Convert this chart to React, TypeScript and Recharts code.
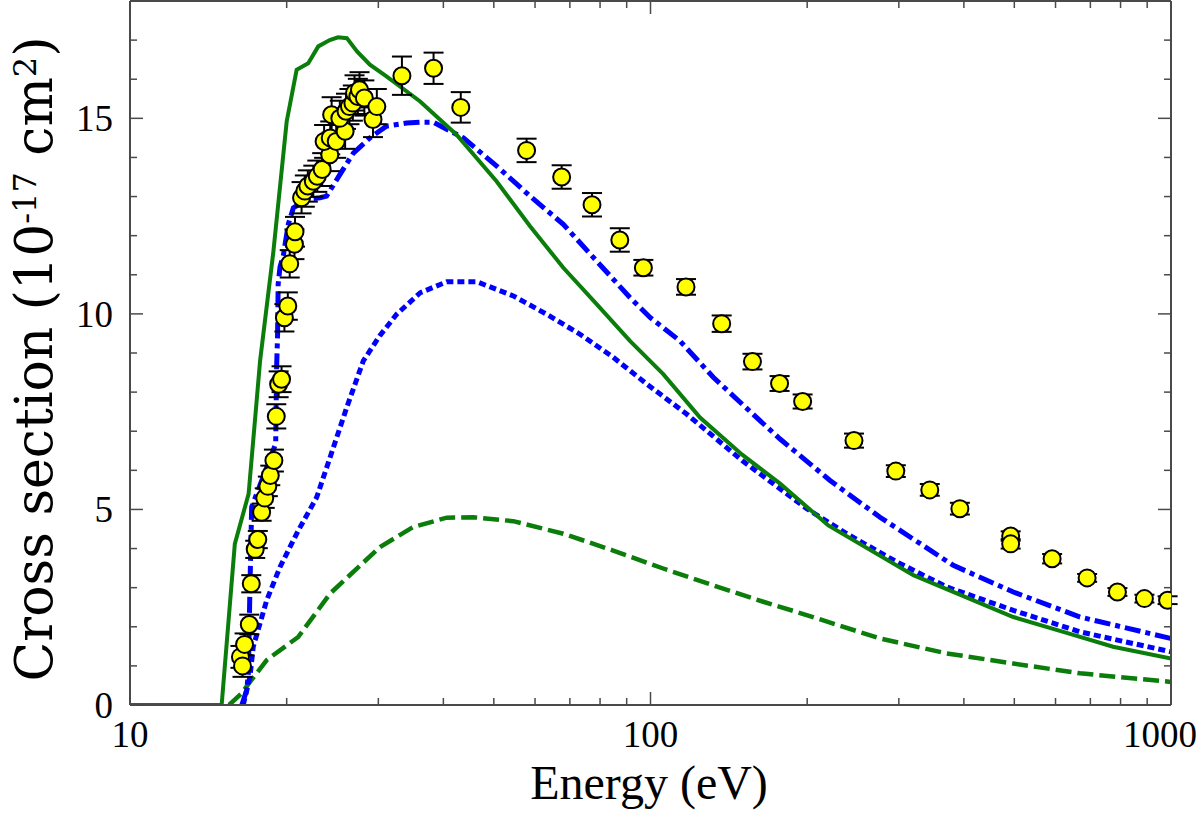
import React from "react";
import { ComposedChart, Line, Scatter, ErrorBar, XAxis, YAxis } from "recharts";

const xMajor = [10, 100, 1000];
const xMinor = [20, 30, 40, 50, 60, 70, 80, 90, 200, 300, 400, 500, 600, 700, 800, 900];
const yMajor = [0, 5, 10, 15];
const yMinor = [1, 2, 3, 4, 6, 7, 8, 9, 11, 12, 13, 14, 16, 17];

// measured cross sections: energy (eV), value, error
const measE = [
  16.3, 16.45, 16.6, 16.95, 17.1, 17.4, 17.6, 17.9, 18.15, 18.4, 18.6, 18.9, 19.1, 19.3,
  19.55, 19.8, 20.1, 20.27, 20.7, 20.75, 21.36, 21.67, 21.96, 22.5, 22.9, 23.4, 24.2,
  23.6, 24.25, 24.9, 25.9, 24.4, 25.3, 26.0, 26.4, 26.8, 27.0, 27.4, 27.6, 28.2, 29.3,
  29.8, 33.3, 38.3, 43.2, 57.8, 67.5, 77.2, 87.3, 96.9, 117, 137, 157, 177, 196, 246,
  296, 344, 393, 492, 492, 591, 690, 789, 889, 985,
];
const measV = [
  1.23, 1.0, 1.55, 2.06, 3.1, 3.98, 4.23, 4.93, 5.29, 5.59, 5.87, 6.25, 7.38, 8.2, 8.33,
  9.9, 10.2, 11.28, 11.78, 12.1, 12.97, 13.14, 13.27, 13.39, 13.52, 13.69, 14.07, 14.41,
  14.5, 14.41, 14.67, 15.09, 15.0, 15.18, 15.3, 15.39, 15.65, 15.56, 15.73, 15.52, 14.97,
  15.3, 16.09, 16.28, 15.28, 14.18, 13.5, 12.79, 11.89, 11.18, 10.69, 9.75, 8.78, 8.22,
  7.76, 6.76, 5.98, 5.5, 5.02, 4.32, 4.12, 3.74, 3.25, 2.89, 2.72, 2.68,
];
const measErr = [
  0.28, 0.28, 0.28, 0.25, 0.22, 0.22, 0.22, 0.22, 0.25, 0.25, 0.25, 0.28, 0.31, 0.33,
  0.33, 0.35, 0.35, 0.35, 0.38, 0.38, 0.4, 0.4, 0.4, 0.4, 0.4, 0.42, 0.42, 0.42, 0.42,
  0.42, 0.45, 0.45, 0.45, 0.45, 0.45, 0.45, 0.45, 0.45, 0.45, 0.45, 0.45, 0.45, 0.49,
  0.4, 0.39, 0.3, 0.3, 0.3, 0.3, 0.2, 0.2, 0.21, 0.2, 0.19, 0.18, 0.18, 0.15, 0.15, 0.15,
  0.12, 0.12, 0.12, 0.1, 0.1, 0.1, 0.1,
];

// theory curves: [energy, value]
const solidGreen = [
  [10, 0], [15.0, 0], [15.9, 4.12], [16.9, 5.4], [17.78, 8.8], [18.86, 11.6], [20.0, 14.92],
  [20.9, 16.24], [22.0, 16.41], [23.0, 16.84], [24.2, 17.0], [25.1, 17.07], [26.1, 17.05],
  [27.3, 16.71], [28.9, 16.37], [31.1, 16.07], [36.1, 15.43], [42.4, 14.58], [50.6, 13.39],
  [58.7, 12.24], [68.0, 11.18], [78.8, 10.25], [91.3, 9.31], [105.8, 8.46], [124.5, 7.35],
  [150, 6.4], [177.4, 5.66], [219.6, 4.59], [319.9, 3.32], [497.8, 2.25], [621, 1.87],
  [774, 1.49], [1000, 1.19],
];
const dashDotBlue = [
  [16.4, 0], [16.76, 0.38], [16.88, 0.8], [17.0, 3.0], [17.13, 5.06], [19.05, 6.68],
  [19.13, 8.63], [19.21, 9.48], [19.26, 10.76], [19.42, 11.2], [19.71, 11.5], [20.15, 12.3],
  [20.6, 12.71], [21.84, 12.93], [23.17, 12.97], [23.86, 13.01], [25.3, 13.56], [26.86, 14.11],
  [28.9, 14.5], [31.1, 14.8], [34.0, 14.88], [36.1, 14.9], [38.25, 14.9], [43.7, 14.5],
  [50.65, 13.78], [58.7, 13.01], [68.0, 12.29], [78.8, 11.35], [91.3, 10.42], [99.8, 9.91],
  [113.9, 9.31], [132, 8.38], [162.3, 7.27], [177.4, 6.8], [221.3, 5.74], [276, 4.8],
  [381.7, 3.57], [497.8, 2.89], [668.8, 2.25], [1000, 1.7],
];
const dottedBlue = [
  [16.5, 0], [17.0, 0.72], [17.25, 1.49], [18.31, 2.68], [19.42, 3.53], [21.05, 4.46],
  [22.84, 5.31], [24.23, 6.33], [26.09, 7.61], [28.07, 8.8], [30.22, 9.45], [32.53, 9.99],
  [36.1, 10.54], [40.6, 10.82], [46.4, 10.82], [54.5, 10.46], [63.2, 9.99], [73.2, 9.48],
  [84.8, 8.89], [98.3, 8.21], [117.3, 7.44], [150, 6.25], [199.6, 5.02], [238.2, 4.38],
  [297.2, 3.66], [370.7, 3.02], [497.8, 2.42], [668.8, 1.87], [1000, 1.36],
];
const dashGreen = [
  [15.5, 0], [16.39, 0.3], [17.0, 0.59], [18.31, 1.15], [21.05, 1.74], [24.23, 2.85],
  [30.22, 4.04], [35.0, 4.55], [40.6, 4.79], [45.7, 4.8], [54.5, 4.7], [68.0, 4.38],
  [84.8, 3.95], [105.8, 3.49], [132, 3.06], [164.7, 2.64], [190.9, 2.38], [276, 1.7],
  [370.7, 1.32], [497.8, 1.06], [668.8, 0.81], [1000, 0.59],
];

const toRows = (pts: number[][]) => pts.map(([e, v]) => ({ e, v }));
const measured = measE.map((e, i) => ({ e, v: measV[i], err: measErr[i] }));

const FONT = "'Liberation Serif', 'Times New Roman', serif";
const TITLE_FONT = "'DejaVu Serif', serif";
const AXIS = "#4a4a4a";
const GREEN = "#0a7d0a";
const BLUE = "#0000ff";

const bottomTick = (props: any) => {
  const { x, y, payload } = props;
  const major = xMajor.includes(payload.value);
  const last = payload.value === 1000;
  return (
    <g>
      <line x1={x} x2={x} y1={y} y2={y - (major ? 13 : 7)} stroke={AXIS} strokeWidth={1.5} />
      {major && (
        <text x={last ? x + 26 : x} y={y + 42} textAnchor={last ? "end" : "middle"}
          fontSize={37} fontFamily={FONT} fill="#000">
          {payload.value}
        </text>
      )}
    </g>
  );
};

const topTick = (props: any) => {
  const { x, y, payload } = props;
  const major = xMajor.includes(payload.value);
  return <line x1={x} x2={x} y1={y} y2={y + (major ? 13 : 7)} stroke={AXIS} strokeWidth={1.5} />;
};

const leftTick = (props: any) => {
  const { x, y, payload } = props;
  const major = yMajor.includes(payload.value);
  return (
    <g>
      <line x1={x} x2={x + (major ? 13 : 7)} y1={y} y2={y} stroke={AXIS} strokeWidth={1.5} />
      {major && (
        <text x={x - 17} y={y + 13} textAnchor="end" fontSize={37} fontFamily={FONT} fill="#000">
          {payload.value}
        </text>
      )}
    </g>
  );
};

const rightTick = (props: any) => {
  const { x, y, payload } = props;
  const major = yMajor.includes(payload.value);
  return <line x1={x} x2={x - (major ? 13 : 7)} y1={y} y2={y} stroke={AXIS} strokeWidth={1.5} />;
};

const Dot = (props: any) => (
  <circle cx={props.cx} cy={props.cy} r={8.5} fill="#ffff00" stroke="#000" strokeWidth={2} />
);

const xTicks = [...xMajor, ...xMinor].sort((a, b) => a - b);
const yTicks = [...yMajor, ...yMinor].sort((a, b) => a - b);

export default function App() {
  return (
    <div style={{ position: "absolute", left: 0, top: 0, width: 1200, height: 813, background: "#fff" }}>
      <ComposedChart width={1200} height={813} margin={{ top: 0, right: 28, bottom: 78, left: 70 }}>
        <XAxis dataKey="e" type="number" scale="log" domain={[10, 1000]} allowDataOverflow
          ticks={xTicks} interval={0} tick={bottomTick} tickLine={false} tickSize={0} tickMargin={0}
          axisLine={{ stroke: AXIS, strokeWidth: 2 }} height={30} />
        <XAxis xAxisId="top" orientation="top" dataKey="e" type="number" scale="log" domain={[10, 1000]}
          allowDataOverflow ticks={xTicks} interval={0} tick={topTick} tickLine={false} tickSize={0}
          tickMargin={0} axisLine={{ stroke: AXIS, strokeWidth: 2 }} height={1} />
        <YAxis dataKey="v" type="number" domain={[0, 18]} allowDataOverflow ticks={yTicks} interval={0}
          tick={leftTick} tickLine={false} tickSize={0} tickMargin={0}
          axisLine={{ stroke: AXIS, strokeWidth: 2 }} width={60} />
        <YAxis yAxisId="right" orientation="right" dataKey="v" type="number" domain={[0, 18]}
          allowDataOverflow ticks={yTicks} interval={0} tick={rightTick} tickLine={false} tickSize={0}
          tickMargin={0} axisLine={{ stroke: AXIS, strokeWidth: 2 }} width={1} />

        <Line data={toRows(dashGreen)} dataKey="v" type="linear" stroke={GREEN} strokeWidth={4.5}
          strokeDasharray="16 6" dot={false} isAnimationActive={false} />
        <Line data={toRows(dottedBlue)} dataKey="v" type="linear" stroke={BLUE} strokeWidth={5}
          strokeDasharray="7 4" dot={false} isAnimationActive={false} />
        <Line data={toRows(dashDotBlue)} dataKey="v" type="linear" stroke={BLUE} strokeWidth={5}
          strokeDasharray="16 5 5 5" dot={false} isAnimationActive={false} />
        <Line data={toRows(solidGreen)} dataKey="v" type="linear" stroke={GREEN} strokeWidth={4}
          dot={false} isAnimationActive={false} />
        <Scatter data={measured} dataKey="v" shape={Dot} isAnimationActive={false}>
          <ErrorBar dataKey="err" direction="y" width={10} stroke="#000" strokeWidth={2} />
        </Scatter>
      </ComposedChart>
      <svg width={1200} height={813} style={{ position: "absolute", left: 0, top: 0, pointerEvents: "none" }}>
        <text x={649} y={799} textAnchor="middle" fontSize={48} fontFamily={FONT} fill="#000">
          Energy (eV)
        </text>
        <text transform="translate(52,359) rotate(-90)" textAnchor="middle" fontSize={52}
          fontFamily={TITLE_FONT} fill="#000">
          Cross section (10
          <tspan dy={-16} fontSize={32}>-17</tspan>
          <tspan dy={16}> cm</tspan>
          <tspan dy={-16} fontSize={32}>2</tspan>
          <tspan dy={16}>)</tspan>
        </text>
      </svg>
    </div>
  );
}
